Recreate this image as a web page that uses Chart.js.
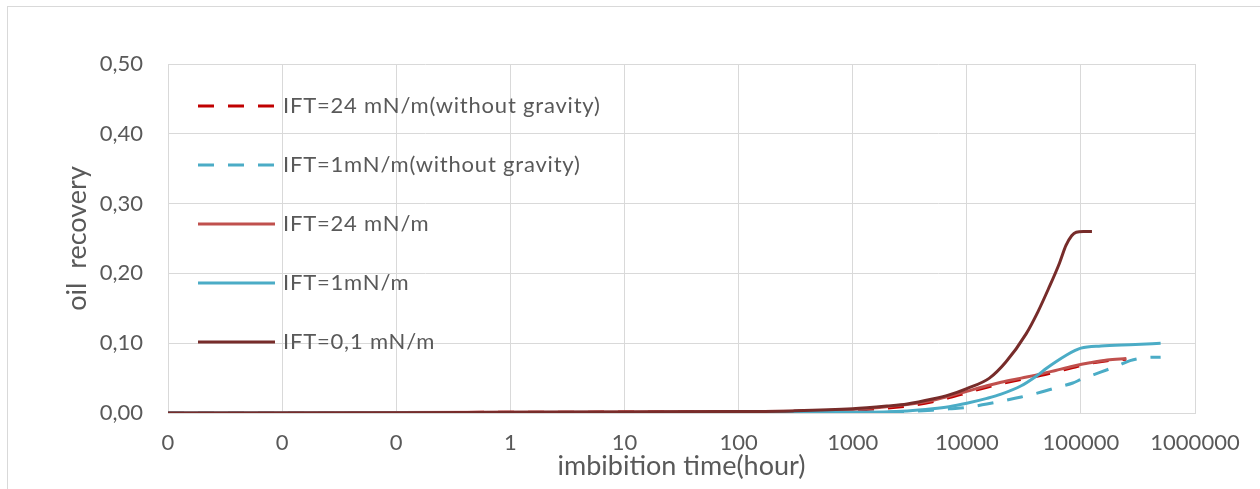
<!DOCTYPE html>
<html lang="en">
<head>
<meta charset="UTF-8">
<title>oil recovery vs imbibition time</title>
<script src="https://cdn.jsdelivr.net/npm/chart.js"></script>
<style>
  body {
    margin: 0;
    background: #fff;
    overflow: hidden
  }

  .frame {
    position: absolute;
    left: 7px;
    top: 6px;
    width: 1400px;
    height: 600px;
    border: 1px solid #d9d9d9
  }

  .wrap {
    position: absolute;
    left: 0;
    top: 0;
    width: 1260px;
    height: 489px
  }
</style>
</head>
<body>
<div class="frame"></div>
<div class="wrap"><canvas id="chart"></canvas></div>
<script>
  // x axis: decades of imbibition time (hours), labelled with 0 decimals
  const tickValues = [0.001, 0.01, 0.1, 1, 10, 100, 1000, 10000, 100000, 1000000];
  const tickLabels = ['0', '0', '0', '1', '10', '100', '1000', '10000', '100000', '1000000'];

  const seriesNames = [
    'IFT=24 mN/m(without gravity)',
    'IFT=1mN/m(without gravity)',
    'IFT=24 mN/m',
    'IFT=1mN/m',
    'IFT=0,1 mN/m'
  ];

  // IFT=24 mN/m, no gravity
  const red24NoGravTime = [0.001, 1, 100, 1000, 3000, 5000, 7000, 10000, 15000, 20000, 30000, 45000, 60000, 85000, 120000, 170000, 250000];
  const red24NoGravRec = [0, 0.001, 0.002, 0.004, 0.010, 0.016, 0.022, 0.029, 0.037, 0.042, 0.048, 0.054, 0.059, 0.065, 0.071, 0.075, 0.077];

  // IFT=1 mN/m, no gravity
  const cyan1NoGravTime = [0.001, 10, 100, 1000, 3000, 5000, 7000, 10000, 15000, 20000, 30000, 45000, 60000, 85000, 100000, 130000, 170000, 220000, 270000, 350000, 500000];
  const cyan1NoGravRec = [0, 0.0002, 0.0003, 0.001, 0.002, 0.004, 0.006, 0.008, 0.013, 0.017, 0.023, 0.030, 0.036, 0.043, 0.048, 0.055, 0.062, 0.069, 0.075, 0.079, 0.080];

  // IFT=24 mN/m
  const red24Time = [0.001, 1, 100, 1000, 3000, 5000, 7000, 10000, 15000, 20000, 30000, 45000, 60000, 85000, 120000, 170000, 250000];
  const red24Rec = [0, 0.001, 0.002, 0.005, 0.012, 0.018, 0.024, 0.031, 0.039, 0.044, 0.050, 0.056, 0.061, 0.067, 0.072, 0.076, 0.078];

  // IFT=1 mN/m
  const cyan1Time = [0.001, 10, 100, 1000, 3000, 5000, 7000, 10000, 15000, 20000, 30000, 40000, 50000, 60000, 75000, 90000, 100000, 150000, 300000, 500000];
  const cyan1Rec = [0, 0.0002, 0.0005, 0.001, 0.003, 0.006, 0.009, 0.014, 0.021, 0.027, 0.039, 0.052, 0.064, 0.073, 0.083, 0.090, 0.093, 0.096, 0.098, 0.100];

  // IFT=0,1 mN/m
  const dark01Time = [0.001, 0.1, 1, 10, 100, 300, 1000, 2000, 3000, 5000, 7000, 10000, 15800, 22000, 33000, 42000, 52000, 65000, 74000, 83000, 91000, 105000, 125000];
  const dark01Rec = [0, 0.0003, 0.001, 0.0015, 0.002, 0.003, 0.006, 0.010, 0.013, 0.020, 0.026, 0.035, 0.050, 0.073, 0.113, 0.145, 0.178, 0.215, 0.240, 0.254, 0.259, 0.260, 0.260];

  const textColor = '#595959';
  const gridColor = '#d9d9d9';
  const tickFont = { family: 'Lato', size: 22 };
  const titleFont = { family: 'Lato', size: 27 };

  const pairs = (ts, vs) => ts.map((t, i) => ({ x: t, y: vs[i] }));

  function series(i, ts, vs, color, dashed) {
    return {
      label: seriesNames[i],
      data: pairs(ts, vs),
      borderColor: color,
      backgroundColor: color,
      borderWidth: 3,
      borderDash: dashed ? [16, 14] : [],
      pointRadius: 0,
      cubicInterpolationMode: 'monotone',
      order: 4 - i
    };
  }

  // legend drawn inside the plot, top-left
  const insideLegend = {
    id: 'insideLegend',
    afterDatasetsDraw(chart) {
      const { ctx, chartArea } = chart;
      ctx.save();
      ctx.font = '22px Lato';
      ctx.letterSpacing = '0.8px';
      ctx.fillStyle = textColor;
      ctx.textBaseline = 'middle';
      chart.data.datasets.forEach((ds, i) => {
        const x = chartArea.left + 30;
        const y = chartArea.top + 42 + i * 59;
        ctx.strokeStyle = ds.borderColor;
        ctx.lineWidth = ds.borderWidth;
        ctx.setLineDash(ds.borderDash);
        ctx.beginPath();
        ctx.moveTo(x, y);
        ctx.lineTo(x + 77, y);
        ctx.stroke();
        ctx.fillText(ds.label, x + 85, y);
      });
      ctx.restore();
    }
  };

  new Chart(document.getElementById('chart'), {
    type: 'line',
    data: {
      datasets: [
        series(0, red24NoGravTime, red24NoGravRec, '#c00000', true),
        series(1, cyan1NoGravTime, cyan1NoGravRec, '#4bacc6', true),
        series(2, red24Time, red24Rec, '#c0504d', false),
        series(3, cyan1Time, cyan1Rec, '#4bacc6', false),
        series(4, dark01Time, dark01Rec, '#772c2a', false)
      ]
    },
    options: {
      responsive: true,
      maintainAspectRatio: false,
      animation: false,
      layout: { padding: { top: 64, right: 65, left: 0, bottom: 0 } },
      plugins: {
        legend: { display: false },
        tooltip: { enabled: false }
      },
      scales: {
        x: {
          type: 'logarithmic',
          min: 0.001,
          max: 1000000,
          afterBuildTicks(s) {
            s.ticks = tickValues.map(v => ({ value: v, major: true }));
          },
          afterFit(s) {
            s.height = 76;
          },
          ticks: {
            autoSkip: false,
            maxRotation: 0,
            padding: 17,
            color: textColor,
            font: tickFont,
            callback: (v, i) => tickLabels[i]
          },
          grid: { color: gridColor, drawTicks: false },
          border: { color: gridColor },
          title: {
            display: true,
            text: 'imbibition time(hour)',
            color: textColor,
            font: titleFont,
            padding: { top: 0, bottom: 7 }
          }
        },
        y: {
          min: 0,
          max: 0.5,
          afterFit(s) {
            s.width = 168;
          },
          ticks: {
            stepSize: 0.1,
            padding: 25,
            color: textColor,
            font: tickFont,
            callback: v => v.toFixed(2).replace('.', ',')
          },
          grid: { color: gridColor, drawTicks: false },
          border: { color: gridColor },
          title: {
            display: true,
            text: 'oil  recovery',
            color: textColor,
            font: titleFont,
            padding: { top: 61, bottom: 0 }
          }
        }
      }
    },
    plugins: [insideLegend]
  });
</script>
</body>
</html>
